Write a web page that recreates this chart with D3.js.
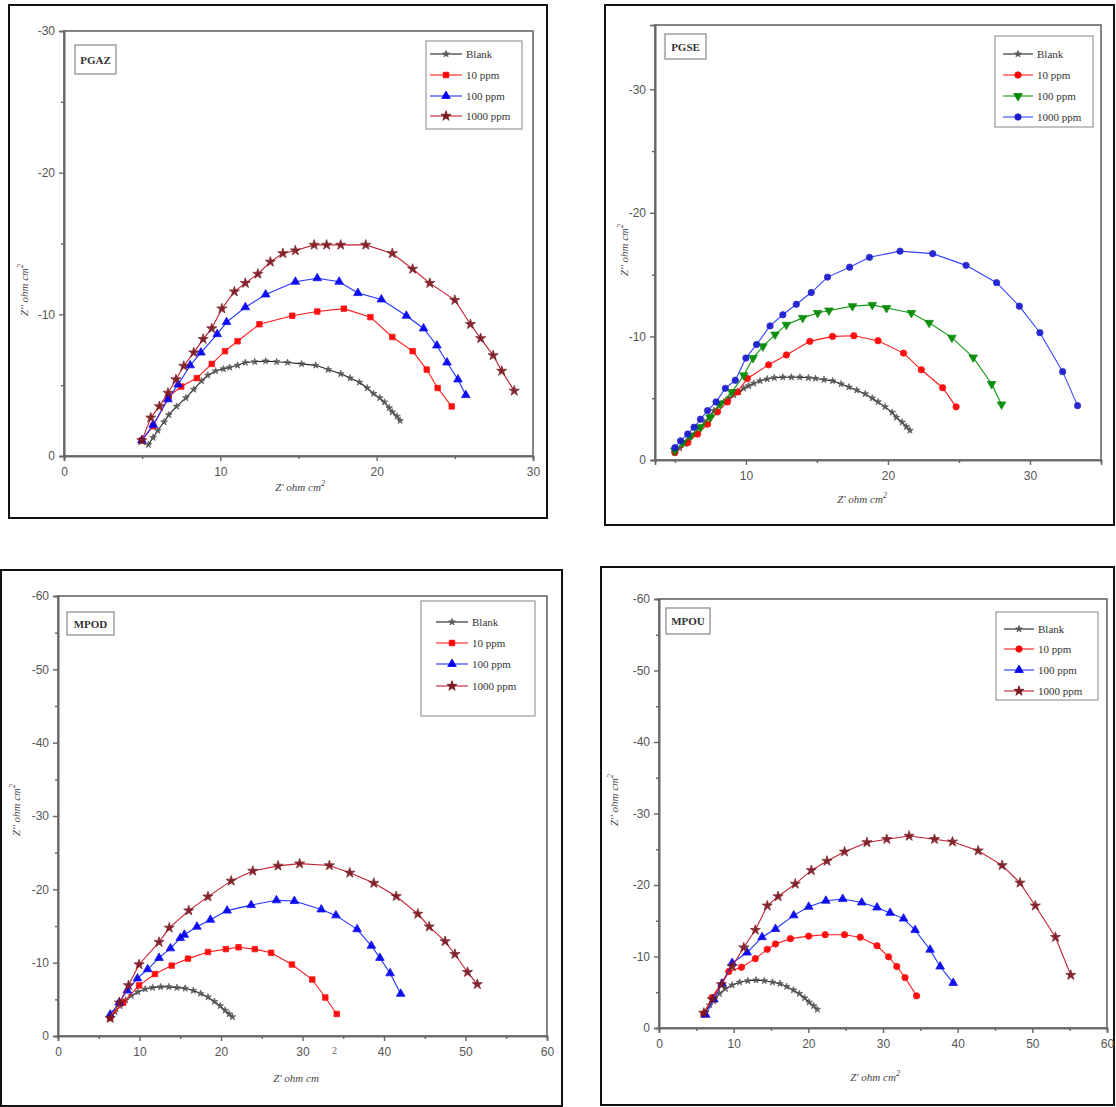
<!DOCTYPE html>
<html>
<head>
<meta charset="utf-8">
<script src="https://cdn.jsdelivr.net/npm/d3@7"></script>
<style>
  body { margin: 0; background: #fff; }
  svg { display: block; }
</style>
</head>
<body>
<div id="chart"></div>
<script>
(function () {
  "use strict";

  // ── Datos (Z', Z'') ────────────────────────────────────
  const PGAZ_BLANK = [[5.4,-0.8],[5.7,-1.3],[6.0,-1.8],[6.4,-2.4],[6.7,-2.9],[7.2,-3.5],[7.8,-4.1],[8.3,-4.7],[8.8,-5.3],[9.2,-5.7],[9.7,-6.0],[10.2,-6.15],[10.6,-6.25],[11.1,-6.4],[11.6,-6.6],[12.2,-6.65],[12.9,-6.7],[13.6,-6.65],[14.3,-6.6],[15.2,-6.5],[16.1,-6.4],[16.9,-6.1],[17.7,-5.8],[18.3,-5.5],[18.9,-5.2],[19.4,-4.8],[19.8,-4.4],[20.2,-4.1],[20.5,-3.8],[20.8,-3.4],[21.0,-3.1],[21.3,-2.8],[21.5,-2.5]];
  const PGAZ_10 = [[4.98,-1.1],[5.7,-2.1],[6.7,-4.2],[7.5,-4.9],[8.5,-5.5],[9.45,-6.5],[10.3,-7.4],[11.1,-8.1],[12.5,-9.3],[14.6,-9.9],[16.2,-10.2],[17.9,-10.4],[19.6,-9.8],[21.0,-8.4],[22.3,-7.4],[23.2,-6.1],[23.9,-4.8],[24.8,-3.5]];
  const PGAZ_100 = [[4.98,-1.1],[5.7,-2.2],[6.65,-4.0],[7.3,-5.05],[8.07,-6.4],[8.76,-7.3],[9.8,-8.6],[10.4,-9.45],[11.6,-10.5],[12.9,-11.4],[14.8,-12.3],[16.2,-12.55],[17.6,-12.3],[18.8,-11.5],[20.3,-11.05],[21.9,-9.9],[23.0,-9.0],[23.85,-7.8],[24.5,-6.6],[25.2,-5.4],[25.7,-4.3]];
  const PGAZ_1000 = [[4.98,-1.1],[5.55,-2.7],[6.1,-3.5],[6.65,-4.45],[7.16,-5.4],[7.66,-6.35],[8.3,-7.3],[8.9,-8.25],[9.45,-9.0],[10.1,-10.4],[10.9,-11.6],[11.6,-12.2],[12.4,-12.85],[13.2,-13.7],[14.0,-14.3],[14.8,-14.5],[16.0,-14.9],[16.8,-14.9],[17.7,-14.9],[19.3,-14.9],[21.0,-14.3],[22.3,-13.2],[23.4,-12.2],[25.0,-11.0],[26.0,-9.3],[26.65,-8.3],[27.45,-7.1],[28.0,-6.0],[28.8,-4.6]];

  const PGSE_BLANK = [[5.0,-0.6],[5.35,-0.95],[5.7,-1.3],[6.0,-1.7],[6.4,-2.1],[6.7,-2.6],[7.1,-3.05],[7.4,-3.5],[7.75,-4.0],[8.1,-4.4],[8.45,-4.7],[8.8,-5.0],[9.15,-5.25],[9.5,-5.5],[9.85,-5.8],[10.2,-6.0],[10.55,-6.2],[11.0,-6.4],[11.5,-6.55],[12.0,-6.65],[12.6,-6.7],[13.2,-6.7],[13.8,-6.7],[14.4,-6.65],[14.9,-6.6],[15.5,-6.5],[16.1,-6.4],[16.7,-6.15],[17.25,-5.9],[17.8,-5.65],[18.4,-5.35],[18.9,-5.0],[19.3,-4.7],[19.8,-4.3],[20.3,-3.85],[20.6,-3.45],[21.0,-3.05],[21.3,-2.7],[21.55,-2.4]];
  const PGSE_10 = [[5.0,-0.6],[5.9,-1.4],[6.6,-2.1],[7.3,-2.9],[8.0,-3.9],[8.7,-4.7],[9.4,-5.5],[10.1,-6.6],[11.6,-7.7],[12.85,-8.5],[14.5,-9.6],[16.1,-10.0],[17.6,-10.05],[19.3,-9.65],[21.1,-8.65],[22.35,-7.3],[23.85,-5.85],[24.8,-4.3]];
  const PGSE_100 = [[5.0,-0.75],[5.55,-1.4],[6.1,-1.95],[6.8,-2.65],[7.5,-3.45],[8.2,-4.55],[9.0,-5.5],[9.85,-6.85],[10.5,-8.25],[11.2,-9.2],[12.05,-10.15],[12.85,-10.95],[14.0,-11.5],[15.05,-11.9],[15.85,-12.1],[17.5,-12.45],[18.9,-12.55],[19.9,-12.3],[21.65,-11.9],[22.9,-11.1],[24.5,-9.9],[26.0,-8.3],[27.3,-6.15],[28.0,-4.5]];
  const PGSE_1000 = [[5.0,-1.0],[5.4,-1.55],[5.9,-2.1],[6.35,-2.65],[6.8,-3.3],[7.3,-4.0],[7.9,-4.7],[8.55,-5.8],[9.25,-6.45],[10.0,-8.25],[10.75,-9.35],[11.7,-10.85],[12.6,-11.75],[13.55,-12.6],[14.6,-13.55],[15.75,-14.8],[17.3,-15.6],[18.7,-16.4],[20.85,-16.9],[23.15,-16.7],[25.5,-15.75],[27.65,-14.35],[29.25,-12.45],[30.7,-10.3],[32.3,-7.15],[33.35,-4.4]];

  const MPOD_BLANK = [[6.4,-2.4],[7.0,-3.3],[7.6,-4.1],[8.3,-4.9],[9.0,-5.5],[9.8,-6.0],[10.7,-6.4],[11.6,-6.6],[12.6,-6.7],[13.6,-6.7],[14.6,-6.6],[15.6,-6.5],[16.6,-6.2],[17.5,-5.8],[18.4,-5.3],[19.2,-4.7],[19.9,-4.1],[20.5,-3.5],[21.0,-3.0],[21.4,-2.6]];
  const MPOD_10 = [[6.4,-2.45],[8.0,-4.55],[9.95,-6.9],[11.9,-8.45],[13.95,-9.6],[15.95,-10.55],[18.4,-11.45],[20.6,-11.85],[22.15,-12.1],[24.15,-11.85],[26.15,-11.35],[28.7,-9.75],[31.2,-7.7],[32.8,-5.25],[34.2,-3.0]];
  const MPOD_100 = [[6.4,-2.9],[7.5,-4.55],[8.5,-6.2],[9.75,-7.85],[11.0,-9.1],[12.4,-10.65],[13.8,-11.95],[15.0,-13.35],[15.5,-13.8],[17.05,-14.9],[18.7,-15.85],[20.75,-17.1],[23.7,-17.85],[26.8,-18.5],[29.0,-18.4],[32.3,-17.25],[34.1,-16.45],[36.7,-14.55],[38.45,-12.3],[39.5,-10.65],[40.75,-8.55],[42.05,-5.75]];
  const MPOD_1000 = [[6.4,-2.45],[7.55,-4.55],[8.65,-6.9],[9.95,-9.75],[12.4,-12.8],[13.65,-14.75],[16.05,-17.1],[18.4,-19.0],[21.25,-21.15],[23.9,-22.5],[27.0,-23.2],[29.65,-23.5],[33.3,-23.25],[35.8,-22.25],[38.75,-20.85],[41.5,-19.05],[44.15,-16.65],[45.55,-14.9],[47.5,-12.9],[48.7,-11.15],[50.25,-8.7],[51.45,-7.05]];

  const MPOU_BLANK = [[6.2,-2.2],[6.8,-3.2],[7.4,-4.0],[8.1,-4.8],[8.9,-5.5],[9.8,-6.0],[10.8,-6.4],[11.9,-6.6],[13.0,-6.7],[14.1,-6.6],[15.2,-6.4],[16.2,-6.2],[17.1,-5.8],[18.0,-5.3],[18.8,-4.8],[19.5,-4.2],[20.1,-3.6],[20.7,-3.1],[21.2,-2.6]];
  const MPOU_10 = [[6.0,-1.95],[7.1,-4.25],[9.35,-7.9],[11.05,-8.5],[12.9,-9.7],[14.5,-11.0],[15.6,-11.75],[17.6,-12.5],[20.05,-12.85],[22.25,-13.05],[24.85,-13.05],[26.95,-12.7],[29.2,-11.5],[30.75,-9.95],[31.85,-8.6],[32.95,-7.05],[34.5,-4.5]];
  const MPOU_100 = [[6.25,-1.85],[7.35,-4.0],[8.45,-6.2],[9.8,-9.1],[11.8,-10.55],[13.8,-12.7],[15.6,-13.85],[18.05,-15.75],[20.05,-16.95],[22.35,-17.8],[24.6,-18.05],[27.15,-17.55],[29.2,-16.85],[30.95,-16.1],[32.75,-15.3],[34.3,-13.7],[36.3,-10.95],[37.65,-8.6],[39.4,-6.3]];
  const MPOU_1000 = [[6.0,-2.1],[7.15,-4.0],[8.35,-6.1],[9.8,-8.6],[11.35,-11.25],[12.9,-13.7],[14.5,-17.1],[15.95,-18.4],[18.25,-20.15],[20.4,-22.05],[22.5,-23.35],[24.85,-24.65],[27.85,-25.95],[30.5,-26.4],[33.5,-26.85],[36.9,-26.4],[39.3,-26.05],[42.75,-24.8],[45.95,-22.75],[48.35,-20.3],[50.4,-17.1],[53.1,-12.7],[55.15,-7.4]];

  const LEGEND_LABELS = ["Blank", "10 ppm", "100 ppm", "1000 ppm"];
  const X_TICKS_30 = [0, 10, 20, 30];
  const X_TICKS_PGSE = [10, 20, 30];
  const X_TICKS_60 = [0, 10, 20, 30, 40, 50, 60];
  const Y_TICKS_30 = [0, -10, -20, -30];
  const Y_TICKS_60 = [0, -10, -20, -30, -40, -50, -60];

  // ── Estilos de serie ───────────────────────────────────
  const STY = {
    blank: { line: "#222", fill: "#555", sym: d3.symbolStar, size: 14, rot: 0 },
    red: { line: "#ff1a1a", fill: "#ff0000", sym: d3.symbolSquare, size: 30, rot: 0 },
    redC: { line: "#ff1a1a", fill: "#ff0000", sym: d3.symbolCircle, size: 32, rot: 0 },
    blue: { line: "#2233ff", fill: "#0000ee", sym: d3.symbolTriangle, size: 32, rot: 0 },
    green: { line: "#119911", fill: "#008800", sym: d3.symbolTriangle, size: 32, rot: 180 },
    brown: { line: "#c02030", fill: "#7a1a22", sym: d3.symbolStar, size: 32, rot: 0 },
    blueC: { line: "#3344ff", fill: "#1a1acc", sym: d3.symbolCircle, size: 32, rot: 0 },
  };

  const PANELS = [
    {
      name: "PGAZ", frame: [9, 5, 547, 518],
      plot: { left: 64, right: 533, top: 31, bottom: 456 },
      xDom: [0, 30], yDom: [0, -30], xTicks: X_TICKS_30, xMinor: [5, 15, 25], yTicks: Y_TICKS_30, yMinor: [-5, -15, -25],
      series: [[PGAZ_BLANK, STY.blank], [PGAZ_10, STY.red], [PGAZ_100, STY.blue], [PGAZ_1000, STY.brown]],
      legend: { x: 426, y: 41, w: 96, h: 88, rows: [54, 75, 96, 116], lx: 430, len: 32 },
      box: [75, 45, 41, 29], xTitle: [300, 491], sup: false, yTitle: [28, 290],
    },
    {
      name: "PGSE", frame: [605, 5, 1114, 525],
      plot: { left: 655, right: 1101, top: 25, bottom: 460 },
      xDom: [3.6, 35], yDom: [0, -35.2], xTicks: X_TICKS_PGSE, xMinor: [5, 15, 25], yTicks: Y_TICKS_30, yMinor: [-5, -15, -25],
      series: [[PGSE_BLANK, STY.blank], [PGSE_10, STY.redC], [PGSE_100, STY.green], [PGSE_1000, STY.blueC]],
      legend: { x: 995, y: 36, w: 98, h: 91, rows: [54, 75, 96, 117], lx: 1003, len: 30 },
      box: [665, 34, 41, 25], xTitle: [862, 503], sup: false, yTitle: [628, 250],
    },
    {
      name: "MPOD", frame: [1, 570, 562, 1106],
      plot: { left: 58, right: 547, top: 596, bottom: 1036 },
      xDom: [0, 60], yDom: [0, -60], xTicks: X_TICKS_60, xMinor: [5, 15, 25, 35, 45, 55], yTicks: Y_TICKS_60, yMinor: [-5, -15, -25, -35, -45, -55],
      series: [[MPOD_BLANK, STY.blank], [MPOD_10, STY.red], [MPOD_100, STY.blue], [MPOD_1000, STY.brown]],
      legend: { x: 421, y: 601, w: 114, h: 115, rows: [622, 643, 664, 686], lx: 436, len: 32 },
      box: [67, 612, 47, 23], xTitle: [296, 1082], sup: "split", yTitle: [20, 810],
    },
    {
      name: "MPOU", frame: [601, 567, 1114, 1105],
      plot: { left: 659, right: 1107, top: 599, bottom: 1028 },
      xDom: [0, 60], yDom: [0, -60], xTicks: X_TICKS_60, xMinor: [5, 15, 25, 35, 45, 55], yTicks: Y_TICKS_60, yMinor: [-5, -15, -25, -35, -45, -55],
      series: [[MPOU_BLANK, STY.blank], [MPOU_10, STY.redC], [MPOU_100, STY.blue], [MPOU_1000, STY.brown]],
      legend: { x: 996, y: 612, w: 102, h: 88, rows: [629, 649, 670, 691], lx: 1004, len: 30 },
      box: [666, 608, 44, 26], xTitle: [875, 1081], sup: true, yTitle: [618, 800],
    },
  ];

  const W = 1116, H = 1107;
  const svg = d3.select("#chart").append("svg").attr("width", W).attr("height", H);

  const AX = "#666";
  const TICK_FONT = "'Liberation Sans', Arial, sans-serif";
  const SERIF = "'Liberation Serif', 'Times New Roman', serif";

  function drawPanel(p) {
    const g = svg.append("g").attr("class", `panel-${p.name}`);
    const P = p.plot;

    // Marco exterior
    g.append("rect")
      .attr("x", p.frame[0]).attr("y", p.frame[1])
      .attr("width", p.frame[2] - p.frame[0]).attr("height", p.frame[3] - p.frame[1])
      .attr("fill", "none").attr("stroke", "#111").attr("stroke-width", 2);

    const x = d3.scaleLinear().domain(p.xDom).range([P.left, P.right]);
    const y = d3.scaleLinear().domain(p.yDom).range([P.bottom, P.top]);

    // Caja del área
    g.append("rect")
      .attr("x", P.left).attr("y", P.top)
      .attr("width", P.right - P.left).attr("height", P.bottom - P.top)
      .attr("fill", "none").attr("stroke", AX).attr("stroke-width", 1.6);

    // Ejes
    const gx = g.append("g").attr("transform", `translate(0,${P.bottom})`)
      .call(d3.axisBottom(x).tickValues(p.xTicks).tickSize(5).tickPadding(6).tickFormat(d3.format("d")));
    const gxm = g.append("g").attr("transform", `translate(0,${P.bottom})`)
      .call(d3.axisBottom(x).tickValues(p.xMinor).tickSize(3).tickFormat(""));
    const gy = g.append("g").attr("transform", `translate(${P.left},0)`)
      .call(d3.axisLeft(y).tickValues(p.yTicks).tickSize(5).tickPadding(4).tickFormat((d) => (d === 0 ? "0" : String(d))));
    const gym = g.append("g").attr("transform", `translate(${P.left},0)`)
      .call(d3.axisLeft(y).tickValues(p.yMinor).tickSize(3).tickFormat(""));

    [gx, gxm, gy, gym].forEach((a) => {
      a.select(".domain").attr("stroke", AX).attr("stroke-width", 1.6);
      a.selectAll(".tick line").attr("stroke", AX).attr("stroke-width", 1.4);
      a.selectAll(".tick text").attr("fill", "#555").attr("font-size", "12px").attr("font-family", TICK_FONT);
    });

    // Series
    const gs = g.append("g");
    for (const [data, st] of p.series) {
      const line = d3.line().x((d) => x(d[0])).y((d) => y(d[1]));
      gs.append("path").attr("d", line(data)).attr("fill", "none").attr("stroke", st.line).attr("stroke-width", 1.1);
      const sym = d3.symbol().type(st.sym).size(st.size);
      gs.selectAll(null).data(data).join("path")
        .attr("d", sym)
        .attr("transform", (d) => `translate(${x(d[0])},${y(d[1])}) rotate(${st.rot})`)
        .attr("fill", st.fill)
        .attr("stroke", st.fill).attr("stroke-width", 0.8).attr("opacity", 0.92);
    }

    // Leyenda
    const L = p.legend;
    g.append("rect").attr("x", L.x).attr("y", L.y).attr("width", L.w).attr("height", L.h)
      .attr("fill", "#fff").attr("stroke", "#999").attr("stroke-width", 1.2);
    p.series.forEach(([, st], i) => {
      const yy = L.rows[i];
      g.append("line").attr("x1", L.lx).attr("x2", L.lx + L.len).attr("y1", yy).attr("y2", yy)
        .attr("stroke", st.line).attr("stroke-width", 1.1);
      g.append("path").attr("d", d3.symbol().type(st.sym).size(st.size)())
        .attr("transform", `translate(${L.lx + L.len / 2},${yy}) rotate(${st.rot})`)
        .attr("fill", st.fill).attr("stroke", st.fill).attr("stroke-width", 0.8);
      g.append("text").attr("x", L.lx + L.len + 4).attr("y", yy + 4)
        .attr("font-family", SERIF).attr("font-size", "11px").attr("fill", "#333")
        .text(LEGEND_LABELS[i]);
    });

    // Etiqueta del panel
    const B = p.box;
    g.append("rect").attr("x", B[0]).attr("y", B[1]).attr("width", B[2]).attr("height", B[3])
      .attr("fill", "#fff").attr("stroke", "#888").attr("stroke-width", 1.2);
    g.append("text").attr("x", B[0] + B[2] / 2).attr("y", B[1] + B[3] / 2 + 4)
      .attr("text-anchor", "middle").attr("font-family", SERIF).attr("font-weight", "bold")
      .attr("font-size", "11px").attr("fill", "#333").text(p.name);

    // Títulos de ejes
    const xt = g.append("text").attr("x", p.xTitle[0]).attr("y", p.xTitle[1])
      .attr("text-anchor", "middle").attr("font-family", SERIF).attr("font-style", "italic")
      .attr("font-size", "11px").attr("fill", "#444");
    if (p.sup === "split") {
      xt.text("Z' ohm cm");
      g.append("text").attr("x", p.xTitle[0] + 36).attr("y", p.xTitle[1] - 28)
        .attr("font-family", SERIF).attr("font-size", "10px").attr("fill", "#666").text("2");
    } else {
      xt.append("tspan").text("Z' ohm cm");
      xt.append("tspan").attr("dy", -5).attr("font-size", "8px").text("2");
    }

    const yt = g.append("text").attr("transform", `translate(${p.yTitle[0]},${p.yTitle[1]}) rotate(-90)`)
      .attr("text-anchor", "middle").attr("font-family", SERIF).attr("font-style", "italic")
      .attr("font-size", "11px").attr("fill", "#444");
    yt.append("tspan").text("Z'' ohm cm");
    yt.append("tspan").attr("dy", -5).attr("font-size", "8px").text("2");
  }

  PANELS.forEach(drawPanel);
})();
</script>
</body>
</html>
